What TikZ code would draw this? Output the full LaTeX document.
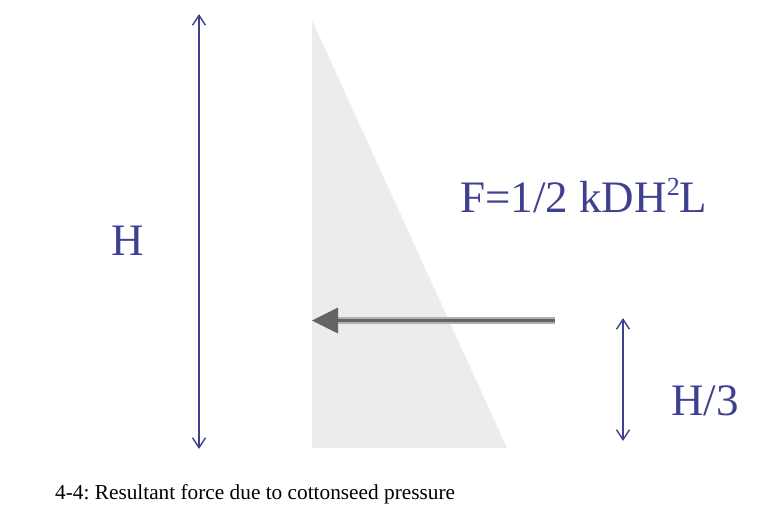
\documentclass[tikz,border=0pt]{standalone}
\usepackage{fontspec}
\setmainfont{Liberation Serif}
\usetikzlibrary{arrows.meta,positioning}
\definecolor{dimblue}{RGB}{64,64,144}
\definecolor{wallgray}{RGB}{236,236,236}
\definecolor{forcegray}{RGB}{100,100,100}
\frenchspacing

\begin{document}
\begin{tikzpicture}
[x=1pt,y=-1pt,
 dim/.style={draw=dimblue,line width=1.4pt,{Straight Barb[length=10pt,width=13pt]}-{Straight Barb[length=10pt,width=13pt]}},
 bigtext/.style={text=dimblue,font=\fontsize{45}{45}\selectfont,inner sep=0pt},
 caption/.style={font=\fontsize{21.3}{21.3}\selectfont,inner sep=0pt,anchor=base west}]
\useasboundingbox (0,0) rectangle (768,532);
% pressure triangle
\fill[wallgray] (312,20) -- (312,448) -- (507,448) -- cycle;
% dimension arrows
\coordinate (htop) at (199,14);
\coordinate (hbot) at (199,449);
\coordinate (thirdtop) at (623,318);
\coordinate (thirdbot) at (623,441);
\draw[dim] (htop) -- (hbot);
\draw[dim] (thirdtop) -- (thirdbot);
\node[bigtext] (hlabel) at (127.5,240.5) {H};
\node[bigtext] (thirdlabel) at (705,401) {H/3};
\node[bigtext,anchor=base west] (formula) at (460,212) {F=1/2 kDH\raisebox{17pt}{\fontsize{26}{26}\selectfont 2}L};
% resultant force
\coordinate (ftail) at (555,320.5);
\coordinate (fhead) at (312,320.5);
\draw[line width=6.5pt,forcegray!50] (ftail) -- ([xshift=24pt]fhead);
\draw[line width=3pt,forcegray] (ftail) -- ([xshift=24pt]fhead);
\fill[forcegray] (fhead) -- ++(26,-13) -- ++(0,26) -- cycle;
\node[caption] (cap) at (55,499) {4-4: Resultant force due to cottonseed pressure};
\end{tikzpicture}
\end{document}
